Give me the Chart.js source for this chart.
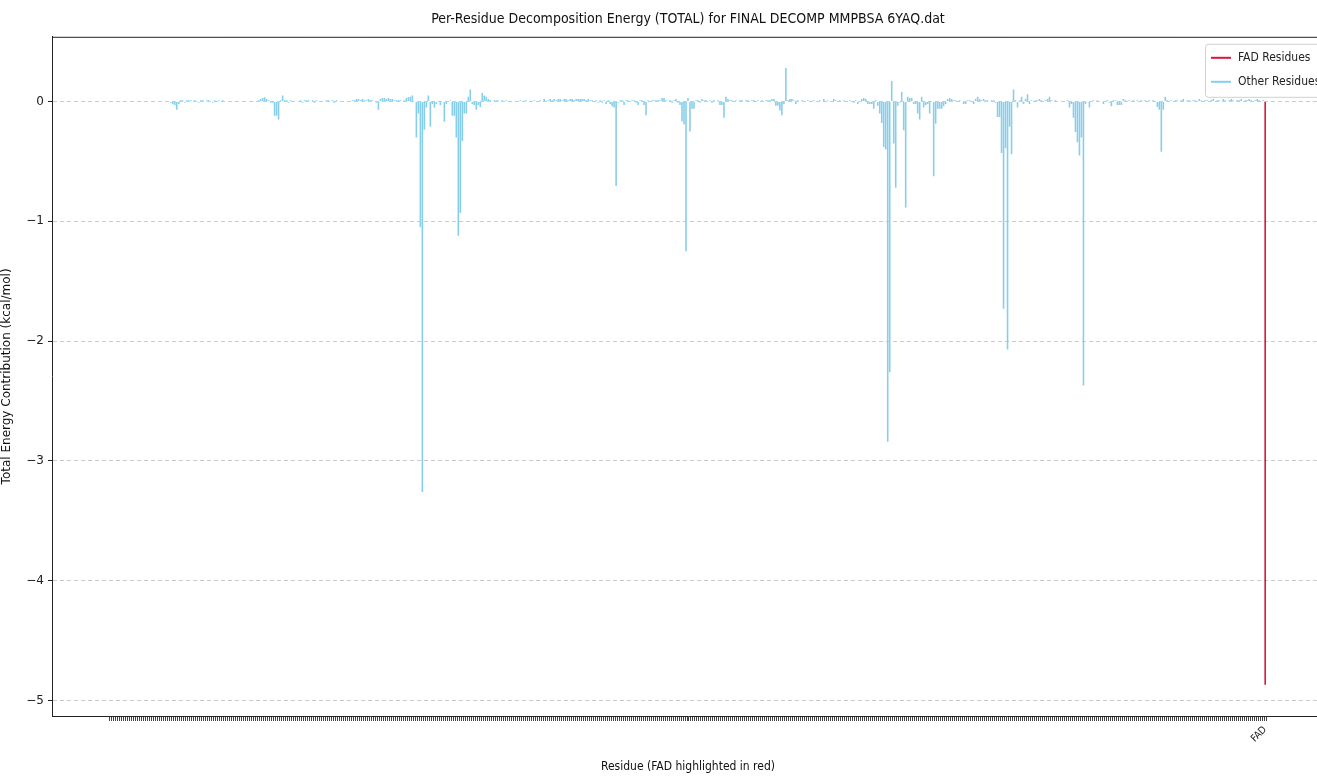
<!DOCTYPE html>
<html>
<head>
<meta charset="utf-8">
<script src="https://cdn.jsdelivr.net/npm/chart.js@4/dist/chart.umd.min.js"></script>
<style>
  html, body { margin: 0; padding: 0; background: #fff; overflow: hidden; }
  #wrap { position: absolute; left: 0; top: 0; width: 1330px; height: 778px; }
</style>
</head>
<body>
<div id="wrap"><canvas id="graficoDecomp" width="1330" height="778"></canvas></div>
<script>
// per-residue TOTAL energy (kcal/mol), residues in file order, FAD last
const residueEnergy = [
  0, 0, 0, 0, 0, 0, 0, 0, 0, 0,
  0, 0, 0, 0, 0, 0, 0, 0, 0, 0,
  0, 0, 0, 0, 0, 0, 0, 0, 0, 0,
  -0.01, -0.02, -0.03, -0.07, -0.02, 0.01, 0.01, -0.01, 0.01, 0.01,
  0.01, 0, 0.01, 0, -0.01, 0.01, 0.01, 0, 0.01, 0.01,
  0, -0.01, 0.01, 0, 0.01, 0, 0.01, 0, 0, 0,
  0, 0, 0, 0, 0, 0, 0, 0, 0, 0,
  0, 0, 0, 0, 0.01, 0.02, 0.03, 0.035, 0.02, 0.01,
  -0.01, -0.01, -0.12, -0.12, -0.15, 0.01, 0.05, 0.01, 0.01, -0.01,
  0.01, 0, 0, 0, 0, 0.01, -0.01, 0.01, 0.01, 0.01,
  0, 0.01, -0.01, 0.01, 0, 0, 0, 0, 0.01, 0.01,
  0, 0.01, -0.01, 0.01, 0, 0, 0, 0, 0, 0,
  0, 0.01, 0.01, 0.02, 0.02, 0.01, 0.02, 0.01, 0.01, 0.02,
  0.01, 0.01, 0, -0.01, -0.07, 0.02, 0.03, 0.03, 0.02, 0.03,
  0.02, 0.02, 0.01, 0.01, 0.01, 0.01, 0, 0.01, 0.03, 0.035,
  0.04, 0.05, 0, -0.30, -0.10, -1.05, -3.26, -0.235, -0.05, 0.05,
  -0.21, -0.02, -0.05, -0.02, 0, -0.03, 0, -0.17, -0.02, 0,
  0.01, -0.12, -0.12, -0.30, -1.12, -0.93, -0.33, -0.10, -0.10, 0.04,
  0.10, -0.02, -0.03, -0.07, -0.03, -0.045, 0.07, 0.05, 0.04, 0.02,
  0.01, 0, 0.01, 0.01, 0.01, 0, 0.01, 0, 0.01, 0,
  0, 0, 0, 0, 0, 0.01, 0, 0, 0.01, 0,
  0, 0, 0.01, 0, 0, 0.01, 0, 0.02, 0, 0.01,
  0.02, 0.01, 0.02, 0.01, 0.02, 0.02, 0.01, 0.02, 0.02, 0.01,
  0.02, 0.02, 0.01, 0.02, 0.02, 0.02, 0.02, 0.02, 0.01, 0.02,
  0.01, 0.01, 0, 0.01, -0.01, 0.01, -0.01, 0.01, -0.02, 0.01,
  -0.02, -0.04, -0.05, -0.705, -0.01, 0.01, 0.01, -0.03, 0.01, 0.01,
  0, 0.01, 0.01, -0.01, -0.03, 0.01, 0.01, -0.03, -0.115, 0.01,
  0, 0.01, 0.01, 0.01, 0.01, 0.01, 0.03, 0.03, 0.01, 0,
  0.01, -0.01, 0.01, 0.02, -0.01, -0.03, -0.165, -0.19, -1.25, 0.03,
  -0.25, -0.06, -0.06, 0.01, 0.01, -0.01, 0.02, 0.01, 0.01, 0,
  0.01, -0.01, 0.01, 0, 0.01, -0.03, -0.03, -0.135, 0.04, 0.02,
  0.01, 0.01, 0, 0.01, 0, 0.01, 0.01, 0, 0.01, 0.01,
  0, 0.01, 0.01, 0, 0.01, 0, 0.01, 0, 0.01, 0.01,
  0.01, 0.02, 0.02, -0.035, -0.035, -0.075, -0.115, -0.02, 0.28, 0.01,
  0.02, 0.02, 0.01, -0.02, 0.01, 0, 0.01, 0, 0, 0.01,
  0, 0, 0.01, 0, 0, 0.01, 0, 0.02, 0, 0.01,
  0, 0, 0.02, 0.01, 0, 0.01, 0, 0.01, 0, 0,
  0.01, 0, -0.01, 0.01, -0.02, 0, 0.02, 0.03, 0.02, -0.02,
  -0.02, -0.02, -0.06, 0.01, -0.035, -0.10, -0.18, -0.38, -0.40, -2.84,
  -2.26, 0.17, -0.35, -0.72, -0.035, -0.01, 0.08, -0.24, -0.885, 0.04,
  0.03, 0.03, -0.02, -0.02, -0.10, -0.15, 0.04, -0.05, -0.03, -0.02,
  -0.10, 0, -0.625, -0.185, -0.06, -0.06, -0.06, -0.04, -0.02, 0.02,
  0.03, 0.02, 0.01, 0.01, 0, 0.01, 0, -0.02, -0.02, 0.01,
  0.01, 0, -0.02, 0.02, 0.04, 0.02, 0.01, 0.02, 0.01, 0.01,
  0, 0.01, 0.01, -0.01, -0.13, -0.13, -0.43, -1.73, -0.39, -2.07,
  -0.21, -0.44, 0.10, 0.01, -0.05, 0.01, 0.04, -0.02, 0.02, 0.06,
  -0.02, 0.01, 0, 0.01, 0.01, 0.02, 0.01, 0, 0.01, 0.02,
  0.04, 0.01, 0, 0.01, 0, 0, 0, 0, 0, 0.01,
  -0.05, -0.02, -0.135, -0.255, -0.34, -0.45, -0.30, -2.37, -0.02, 0,
  -0.05, 0, 0.01, 0, 0.01, 0, 0, -0.02, 0, 0.01,
  -0.01, -0.04, 0.01, 0.01, -0.03, -0.03, -0.03, 0.02, 0.01, 0,
  0.01, 0, 0.01, 0, 0.01, 0, 0.01, 0, 0.01, 0,
  0.01, 0, 0.01, 0, -0.045, -0.07, -0.42, -0.07, 0.04, 0.01,
  0, 0.01, 0, 0.01, 0.01, 0, 0.01, 0.02, 0, 0.01,
  0.01, 0, 0.01, 0.01, 0, 0.02, 0.01, 0, 0.01, 0.01,
  0, 0.01, 0.02, 0, 0.01, 0.01, 0, 0.02, 0.01, 0,
  0.01, 0.02, 0.01, 0, 0.01, 0.01, 0.02, 0, 0.01, 0.01,
  0.02, 0.01, 0, 0.01, 0.02, 0.01, 0, 0.01
];
const fadLabel = "FAD";
const fadEnergy = [-4.87];
const yTicks = [-5, -4, -3, -2, -1, 0];

const corOutros = "#87CEEB";
const corFAD = "#DC143C";

const nRes = residueEnergy.length;          // FAD sits right after the last residue
const fadPos = nRes;
const margem = 0.05 * fadPos;

const outros = residueEnergy.map((v, i) => ({x: i, y: v}));
const fad = [{x: fadPos, y: fadEnergy[0]}];

const fonte = "'DejaVu Sans', sans-serif";
const fonteEstreita = "'DejaVu Sans Condensed', 'Liberation Sans Narrow', 'DejaVu Sans', sans-serif";

// top/right spine + legend drawn inside the axes, matplotlib style
const molduraLegenda = {
  id: "molduraLegenda",
  afterDraw(chart) {
    const {ctx, chartArea: a} = chart;
    ctx.save();
    ctx.strokeStyle = "#222";
    ctx.lineWidth = 1;
    ctx.beginPath();
    ctx.moveTo(a.left, a.top + 0.5);
    ctx.lineTo(a.right, a.top + 0.5);
    ctx.lineTo(a.right, a.bottom);
    ctx.stroke();

    const bx = a.right - 119, by = a.top + 7, bw = 140, bh = 53;
    ctx.fillStyle = "rgba(255,255,255,0.85)";
    ctx.strokeStyle = "#d0d0d0";
    ctx.beginPath();
    ctx.roundRect(bx + 0.5, by + 0.5, bw, bh, 3);
    ctx.fill();
    ctx.stroke();

    const itens = [["FAD Residues", corFAD], ["Other Residues", corOutros]];
    ctx.font = "12px " + fonteEstreita;
    ctx.textBaseline = "middle";
    itens.forEach(([txt, cor], k) => {
      const yy = by + 14 + k * 24;
      ctx.strokeStyle = cor;
      ctx.lineWidth = 2;
      ctx.beginPath();
      ctx.moveTo(bx + 6, yy);
      ctx.lineTo(bx + 26, yy);
      ctx.stroke();
      ctx.fillStyle = "#222";
      ctx.fillText(txt, bx + 33, yy);
    });
    ctx.restore();
  }
};

new Chart(document.getElementById("graficoDecomp"), {
  type: "bar",
  data: {
    datasets: [
      {label: "Other Residues", data: outros, backgroundColor: corOutros},
      {label: "FAD Residues", data: fad, backgroundColor: corFAD}
    ]
  },
  options: {
    responsive: false,
    animation: false,
    events: [],
    grouped: false,
    barPercentage: 1.0,
    categoryPercentage: 0.8,
    layout: {padding: {left: 0, right: 6, top: 0, bottom: 0}},
    plugins: {
      legend: {display: false},
      tooltip: {enabled: false},
      title: {
        display: true,
        text: "Per-Residue Decomposition Energy (TOTAL) for FINAL DECOMP MMPBSA 6YAQ.dat",
        fullSize: false,
        color: "#111",
        font: {family: fonteEstreita, size: 14, weight: "normal"},
        padding: {top: 11, bottom: 9}
      }
    },
    scales: {
      x: {
        type: "linear",
        min: -margem,
        max: fadPos + margem,
        afterBuildTicks: (s) => {
          s.ticks = s.ticks.filter(t => t.value >= 0 && t.value <= fadPos && Number.isInteger(t.value));
        },
        afterFit: (s) => { s.height = 62; },
        ticks: {
          stepSize: 1,
          includeBounds: false,
          autoSkip: false,
          maxRotation: 45,
          minRotation: 45,
          padding: 3,
          color: "#222",
          font: {family: fonteEstreita, size: 10},
          callback: (v) => v === fadPos ? fadLabel : ""
        },
        grid: {drawOnChartArea: false, drawTicks: true, tickLength: 5, tickColor: "#444", lineWidth: 1},
        border: {display: true, color: "#222", width: 1},
        title: {
          display: true,
          text: "Residue (FAD highlighted in red)",
          color: "#111",
          font: {family: fonteEstreita, size: 12},
          padding: {top: 0, bottom: 4}
        }
      },
      y: {
        min: -5.13,
        max: 0.54,
        afterFit: (s) => { s.width = 52; },
        afterBuildTicks: (s) => { s.ticks = yTicks.map(v => ({value: v})); },
        ticks: {
          includeBounds: false,
          color: "#222",
          padding: 4,
          font: {family: fonte, size: 12},
          callback: (v) => v < 0 ? "\u2212" + Math.abs(v) : String(v)
        },
        grid: {color: "#cccccc", lineWidth: 1, drawTicks: true, tickLength: 4, tickColor: "#222"},
        border: {display: true, color: "#222", width: 1, dash: [4, 3]},
        title: {
          display: true,
          text: "Total Energy Contribution (kcal/mol)",
          color: "#111",
          font: {family: fonte, size: 12},
          padding: {top: 0, bottom: 4}
        }
      }
    }
  },
  plugins: [molduraLegenda]
});
</script>
</body>
</html>
